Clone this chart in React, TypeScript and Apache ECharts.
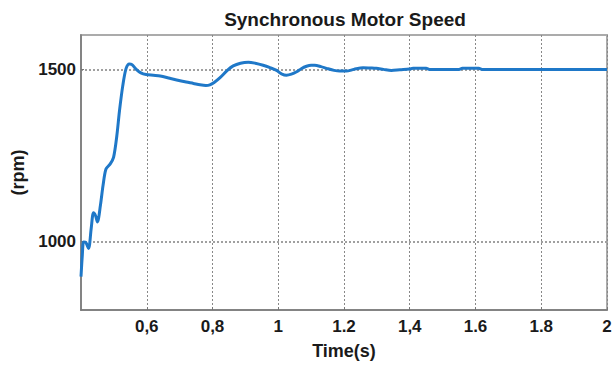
import React, { useEffect, useRef } from "react";
import * as echarts from "echarts";

const times = [
  0.4, 0.404, 0.408, 0.415, 0.423, 0.431, 0.438, 0.444, 0.45, 0.459, 0.467, 0.476,
  0.489, 0.499, 0.509, 0.517, 0.527, 0.537, 0.547, 0.555, 0.568, 0.582, 0.598,
  0.62, 0.641, 0.67, 0.691, 0.72, 0.742, 0.762, 0.78, 0.792, 0.805, 0.823, 0.845,
  0.863, 0.885, 0.909, 0.93, 0.954, 0.975, 0.995, 1.01, 1.025, 1.04, 1.056, 1.07,
  1.086, 1.1, 1.111, 1.13, 1.147, 1.17, 1.187, 1.207, 1.23, 1.258, 1.28, 1.298,
  1.32, 1.344, 1.37, 1.399, 1.41, 1.45, 1.46, 1.55, 1.56, 1.61, 1.62, 1.8, 2.0,
];
const speeds = [
  897, 959, 998, 996, 979, 1037, 1083, 1075, 1056, 1104, 1162, 1210,
  1225, 1244, 1307, 1379, 1452, 1502, 1516, 1514, 1500, 1490, 1485,
  1483, 1481, 1474, 1469, 1463, 1459, 1455, 1453, 1455, 1462, 1476, 1497,
  1510, 1518, 1521, 1518, 1512, 1505, 1497, 1487, 1483, 1486, 1493, 1502,
  1509, 1512, 1512, 1508, 1503, 1497, 1495, 1495, 1500, 1505, 1504, 1503,
  1500, 1497, 1499, 1501, 1503, 1503, 1500, 1500, 1503, 1503, 1500, 1500, 1500,
];

const xTickValues = [0.6, 0.8, 1, 1.2, 1.4, 1.6, 1.8, 2];
const xTickLabels = ["0,6", "0,8", "1", "1.2", "1,4", "1.6", "1.8", "2"];
const yTickValues = [1000, 1500];
const yTickLabels = ["1000", "1500"];

const titleText = "Synchronous Motor Speed";
const xName = "Time(s)";
const yName = "(rpm)";

const FONT = "'Liberation Sans', Arial, sans-serif";

export default function App() {
  const ref = useRef<HTMLDivElement>(null);
  useEffect(() => {
    document.body.style.margin = "0";
    const chart = echarts.init(ref.current!, null, { renderer: "svg" });
    const data = times.map((t, i) => [t, speeds[i]]);
    chart.setOption({
      animation: false,
      backgroundColor: "#ffffff",
      title: {
        text: titleText,
        left: 340,
        top: 5,
        textAlign: "center",
        textStyle: { fontFamily: FONT, fontWeight: "bold", fontSize: 19, color: "#1a1a1a" },
      },
      grid: {
        left: 81,
        right: 9,
        top: 35,
        bottom: 60,
        show: true,
        borderColor: "#ababab",
        borderWidth: 2,
        backgroundColor: "#ffffff",
      },
      xAxis: {
        type: "value",
        min: 0.4,
        max: 2,
        name: xName,
        nameLocation: "middle",
        nameGap: 32,
        nameTextStyle: { fontFamily: FONT, fontWeight: "bold", fontSize: 18, color: "#1a1a1a" },
        axisLine: { show: true, onZero: false, lineStyle: { color: "#777", width: 1.5 } },
        axisTick: { show: true, inside: true, length: 3, customValues: xTickValues, lineStyle: { color: "#777" } },
        axisLabel: {
          customValues: xTickValues,
          margin: 8,
          fontFamily: FONT,
          fontWeight: "bold",
          fontSize: 17,
          color: "#1a1a1a",
          formatter: (v: number) => {
            const i = xTickValues.findIndex((x) => Math.abs(x - v) < 1e-6);
            return i >= 0 ? xTickLabels[i] : "";
          },
        },
        splitLine: { show: true, lineStyle: { color: "#888", type: [2, 2], width: 1 } },
      },
      yAxis: {
        type: "value",
        min: 800,
        max: 1600,
        name: yName,
        nameLocation: "middle",
        nameGap: 44,
        nameTextStyle: { fontFamily: FONT, fontWeight: "bold", fontSize: 18, color: "#1a1a1a" },
        axisLine: { show: true, onZero: false, lineStyle: { color: "#777", width: 1.5 } },
        axisTick: { show: true, inside: true, length: 3, customValues: yTickValues, lineStyle: { color: "#777" } },
        axisLabel: {
          customValues: yTickValues,
          margin: 5,
          fontFamily: FONT,
          fontWeight: "bold",
          fontSize: 17,
          color: "#1a1a1a",
          formatter: (v: number) => {
            const i = yTickValues.findIndex((y) => Math.abs(y - v) < 1e-6);
            return i >= 0 ? yTickLabels[i] : "";
          },
        },
        splitLine: { show: true, lineStyle: { color: "#a0a0a0", type: [2, 2], width: 2 } },
      },
      series: [
        {
          type: "line",
          data,
          showSymbol: false,
          smooth: 0.3,
          lineStyle: { color: "#1f78c8", width: 3 },
        },
      ],
    });
    return () => chart.dispose();
  }, []);
  return <div ref={ref} style={{ width: 616, height: 370 }} />;
}
